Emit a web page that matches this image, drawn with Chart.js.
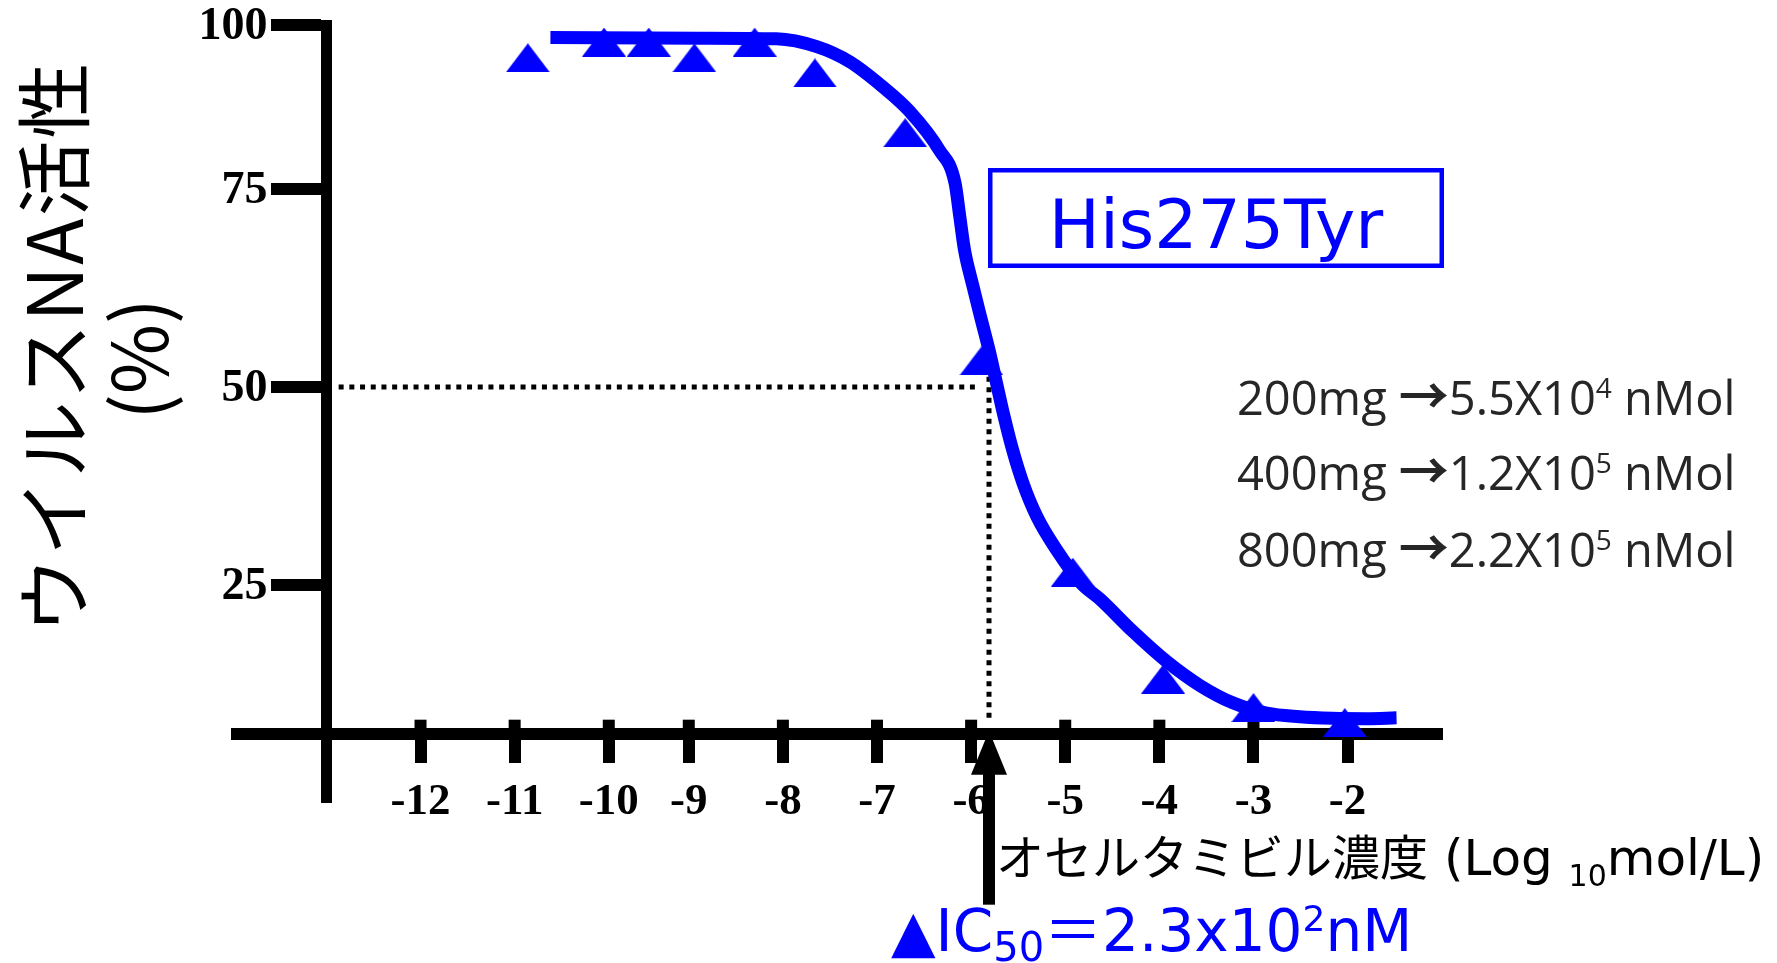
<!DOCTYPE html>
<html>
<head>
<meta charset="utf-8">
<script src="https://cdn.jsdelivr.net/npm/chart.js@4.4.1/dist/chart.umd.min.js"></script>
<style>
html,body{margin:0;padding:0;background:#fff;overflow:hidden}
#wrap{width:1777px;height:963px;position:relative}
</style>
</head>
<body>
<div id="wrap"><canvas id="c"></canvas></div>
<script>
// ---------------- data ----------------
const xTickValues = [-12, -11, -10, -9, -8, -7, -6, -5, -4, -3, -2];
const yTickValues = [25, 50, 75, 100];

// measured points (log10 mol/L, % activity)
const pointLogConc  = [-10.86, -10.05, -9.5, -8.94, -8.3, -7.66, -6.7, -5.89, -4.92, -3.96, -3.0, -2.03];
const pointActivity = [95.0, 97.4, 97.4, 95.0, 97.4, 92.7, 83.6, 53.3, 26.6, 13.1, 9.5, 7.6];

// fitted curve
const curveLogConc  = [-10.62, -8.88, -8.07, -7.64, -7.29, -6.94, -6.65, -6.34, -6.17, -6.12, -6.07, -5.99, -5.90, -5.81, -5.73, -5.65, -5.56, -5.45, -5.30, -5.09, -4.83, -4.63, -4.28, -3.92, -3.57, -3.22, -2.86, -2.51, -2.16, -1.80, -1.48];
const curveActivity = [98.1, 98.0, 97.9, 96.7, 94.4, 90.6, 86.8, 81.0, 75.9, 71.5, 67.3, 63.2, 58.9, 54.7, 50.5, 46.3, 42.1, 37.9, 33.6, 29.4, 25.2, 23.2, 19.1, 15.3, 12.3, 10.1, 8.8, 8.35, 8.15, 8.1, 8.2];

// 50 % guide lines and IC50 position
const halfGuideX = [-12.87, -5.96];
const halfGuideY = [50, 50];
const ic50GuideX = [-5.81, -5.81];
const ic50GuideY = [51.3, 7.7];
const ic50ArrowX = -5.81;

// axes crossing values
const yAxisAtX = -13;
const xAxisAtY = 6.2;

// texts
const yTitleLine1 = 'ウイルスNA活性';
const yTitleLine2 = '(%)';
const strainLabel = 'His275Tyr';
const doseLines = [
  ['200mg ', '→', '5.5X10', '4', ' nMol'],
  ['400mg ', '→', '1.2X10', '5', ' nMol'],
  ['800mg ', '→', '2.2X10', '5', ' nMol']
];

// ---------------- axis shape (the drawn axes are not evenly spaced) ----------------
function warpX(v) { if (v >= -9) return v; if (v >= -10) return -9 + (v + 9) * 0.85; return -9.85 + (v + 10); }
function warpY(v) { return v > 75 ? 75 + (v - 75) * 0.83 : v; }

class WarpScale extends Chart.LinearScale {
  static id = 'warpLinear';
  _w(v) { return this.axis === 'x' ? warpX(v) : warpY(v); }
  configure() {
    super.configure();
    this._startValue = this._w(this.min);
    this._endValue = this._w(this.max);
    this._valueRange = this._endValue - this._startValue;
  }
  getPixelForValue(v) {
    if (v === null || v === undefined) return NaN;
    return super.getPixelForValue(this._w(v));
  }
}
Chart.register(WarpScale);

function triangleMarker(w, h, color) {
  const c = document.createElement('canvas');
  c.width = w; c.height = h;
  const g = c.getContext('2d');
  g.fillStyle = color;
  g.beginPath(); g.moveTo(w / 2, 0); g.lineTo(w, h); g.lineTo(0, h); g.closePath(); g.fill();
  return c;
}

const BLUE = '#0000ff';
const zip = (xs, ys) => xs.map((x, i) => ({ x: x, y: ys[i] }));
const zeroPad = (s) => { s.paddingTop = 0; s.paddingBottom = 0; s.paddingLeft = 0; s.paddingRight = 0; };

function drawRuns(ctx, x, y, runs) {
  for (const r of runs) {
    ctx.font = r.font;
    ctx.fillStyle = r.color;
    ctx.fillText(r.t, x, y + (r.dy || 0));
    x += ctx.measureText(r.t).width;
  }
}

const decor = {
  id: 'decor',
  beforeDatasetsDraw(chart) {
    const ctx = chart.ctx, xs = chart.scales.x, ys = chart.scales.y;
    const ay = ys.getPixelForValue(xAxisAtY);
    const ax = xs.getPixelForValue(yAxisAtX);
    ctx.save();
    ctx.fillStyle = '#000';
    // upper part of the x tick marks (they cross the axis)
    for (const t of xTickValues) {
      const px = xs.getPixelForValue(t);
      ctx.fillRect(px - 6, ay - 14, 12, 10);
    }
    // y tick labels, right aligned before the tick marks
    ctx.font = 'bold 46px "Liberation Serif"';
    ctx.textAlign = 'right';
    ctx.textBaseline = 'middle';
    ys.ticks.forEach((t) => {
      ctx.fillText(t.label, ax - 59, ys.getPixelForValue(t.value) + 2);
    });
    ctx.restore();
  },
  afterDatasetsDraw(chart) {
    const ctx = chart.ctx, xs = chart.scales.x, ys = chart.scales.y;
    const ax = xs.getPixelForValue(ic50ArrowX);
    const tip = ys.getPixelForValue(xAxisAtY) - 3;
    ctx.save();
    ctx.fillStyle = '#000';
    ctx.fillRect(ax - 6, tip + 40, 12, 134);
    ctx.beginPath();
    ctx.moveTo(ax, tip); ctx.lineTo(ax + 18, tip + 44); ctx.lineTo(ax - 18, tip + 44); ctx.closePath();
    ctx.fill();
    ctx.restore();
  },
  afterDraw(chart) {
    const ctx = chart.ctx;
    ctx.save();
    // y title
    ctx.fillStyle = '#000';
    ctx.textAlign = 'center';
    ctx.textBaseline = 'middle';
    ctx.save();
    ctx.translate(54, 347);
    ctx.rotate(-Math.PI / 2);
    ctx.font = '76px "Noto Sans CJK JP"';
    try { ctx.letterSpacing = '2px'; } catch (e) {}
    ctx.fillText(yTitleLine1, 0, 0);
    ctx.restore();
    ctx.save();
    ctx.translate(139, 359);
    ctx.rotate(-Math.PI / 2);
    ctx.font = '76px "Noto Sans CJK JP"';
    ctx.fillText(yTitleLine2, 0, 0);
    ctx.restore();

    // strain box
    ctx.strokeStyle = BLUE;
    ctx.lineWidth = 4.5;
    ctx.strokeRect(990.25, 170.25, 451.5, 95.5);
    ctx.fillStyle = BLUE;
    ctx.textAlign = 'center';
    ctx.textBaseline = 'alphabetic';
    ctx.font = '68px "DejaVu Sans"';
    ctx.fillText(strainLabel, 1216, 248);

    // dose lines
    ctx.textAlign = 'left';
    const baselines = [415, 490, 567];
    const grey = '#262626';
    doseLines.forEach((d, i) => {
      drawRuns(ctx, 1237, baselines[i], [
        { t: d[0], font: '47px "Open Sans"', color: grey },
        { t: d[1], font: 'bold 50px "Noto Sans CJK JP"', color: grey, dy: -1 },
        { t: d[2], font: '47px "Open Sans"', color: grey },
        { t: d[3], font: '28px "Open Sans"', color: grey, dy: -17 },
        { t: d[4], font: '47px "Open Sans"', color: grey }
      ]);
    });

    // x title
    drawRuns(ctx, 996, 875, [
      { t: 'オセルタミビル濃度', font: '48px "Noto Sans CJK JP"', color: '#000' },
      { t: ' (Log ', font: '50px "DejaVu Sans"', color: '#000' },
      { t: '10', font: '30px "DejaVu Sans"', color: '#000', dy: 11 },
      { t: 'mol/L)', font: '50px "DejaVu Sans"', color: '#000' }
    ]);

    // IC50 label
    drawRuns(ctx, 891, 951, [
      { t: '▲', font: '58px "DejaVu Sans"', color: BLUE },
      { t: 'IC', font: '58px "DejaVu Sans"', color: BLUE },
      { t: '50', font: '40px "DejaVu Sans"', color: BLUE, dy: 10 },
      { t: '＝', font: '58px "Noto Sans CJK JP"', color: BLUE },
      { t: '2.3x10', font: '58px "DejaVu Sans"', color: BLUE },
      { t: '2', font: '36px "DejaVu Sans"', color: BLUE, dy: -20 },
      { t: 'nM', font: '58px "DejaVu Sans"', color: BLUE }
    ]);
    ctx.restore();
  }
};

new Chart(document.getElementById('c'), {
  type: 'line',
  data: {
    datasets: [
      {
        label: 'fit',
        data: zip(curveLogConc, curveActivity),
        borderColor: BLUE,
        borderWidth: 13,
        borderCapStyle: 'butt',
        borderJoinStyle: 'round',
        cubicInterpolationMode: 'monotone',
        pointRadius: 0,
        fill: false,
        clip: false
      },
      {
        label: 'His275Tyr',
        data: zip(pointLogConc, pointActivity),
        showLine: false,
        pointStyle: triangleMarker(44, 29, BLUE),
        pointRadius: 15,
        clip: false
      },
      {
        label: 'half',
        data: zip(halfGuideX, halfGuideY),
        borderColor: '#000',
        borderWidth: 5,
        borderDash: [5, 5.7],
        borderCapStyle: 'butt',
        pointRadius: 0,
        clip: false
      },
      {
        label: 'ic50',
        data: zip(ic50GuideX, ic50GuideY),
        borderColor: '#000',
        borderWidth: 5,
        borderDash: [5, 5.5],
        borderCapStyle: 'butt',
        pointRadius: 0,
        clip: false
      }
    ]
  },
  options: {
    responsive: true,
    maintainAspectRatio: false,
    animation: false,
    events: [],
    layout: { padding: { left: 237, right: 340, top: 25, bottom: 166 } },
    plugins: { legend: { display: false }, tooltip: { enabled: false }, title: { display: false } },
    scales: {
      x: {
        type: 'warpLinear',
        min: -13.95,
        max: -1.05,
        bounds: 'data',
        position: { y: xAxisAtY },
        afterBuildTicks: (s) => { s.ticks = xTickValues.map(v => ({ value: v })); },
        afterFit: zeroPad,
        border: { display: true, color: '#000', width: 12 },
        grid: { drawOnChartArea: false, color: '#000', lineWidth: 12, tickWidth: 12, tickLength: 23 },
        ticks: {
          autoSkip: false, maxRotation: 0, padding: 19, color: '#000',
          font: { family: 'Liberation Serif', size: 45, weight: 'bold' },
          callback: (v) => String(v)
        }
      },
      y: {
        type: 'warpLinear',
        min: -1.8,
        max: 100,
        bounds: 'data',
        position: { x: yAxisAtX },
        afterBuildTicks: (s) => { s.ticks = yTickValues.map(v => ({ value: v })); },
        afterFit: zeroPad,
        border: { display: true, color: '#000', width: 11 },
        grid: { drawOnChartArea: false, color: '#000', lineWidth: 12, tickWidth: 12, tickLength: 50 },
        ticks: {
          display: false,
          callback: (v) => String(v)
        }
      }
    }
  },
  plugins: [decor]
});
</script>
</body>
</html>
